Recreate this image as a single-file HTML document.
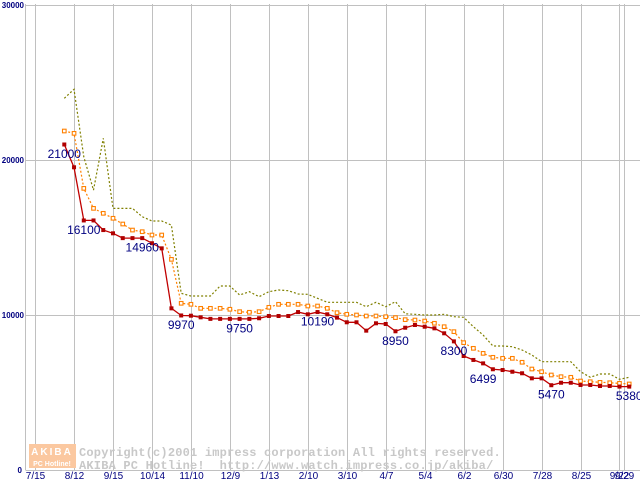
<!DOCTYPE html>
<html><head><meta charset="utf-8"><style>
html,body{margin:0;padding:0;background:#fff;}
svg{display:block;}
text{font-family:"Liberation Sans",sans-serif;}
text.mono{font-family:"Liberation Mono",monospace;}
</style></head><body>
<svg id="chart" width="640" height="480" viewBox="0 0 640 480" xmlns="http://www.w3.org/2000/svg">
<g id="grid"></g>
<g id="watermark">
  <rect x="29" y="444" width="47" height="24" fill="#fbc8a0"/>
  <text x="52" y="455" font-size="10" font-weight="bold" fill="#fff" text-anchor="middle" letter-spacing="2">AKIBA</text>
  <text x="52" y="466" font-size="7" font-weight="bold" fill="#fff" text-anchor="middle">PC Hotline!</text>
  <text class="mono" x="79" y="456" font-size="12" letter-spacing="0.2" font-weight="bold" fill="#c8c8c8">Copyright(c)2001 impress corporation All rights reserved.</text>
  <text class="mono" x="79" y="469" font-size="12" letter-spacing="0.2" font-weight="bold" fill="#c8c8c8" xml:space="preserve">AKIBA PC Hotline!  http://www.watch.impress.co.jp/akiba/</text>
</g>
<g id="series"></g>
<g id="labels"></g>
</svg>
<script>
const redValues=[21000,19530,16100,16100,15480,15270,14960,14960,14960,14630,14300,10430,9970,9955,9850,9750,9750,9750,9750,9750,9790,9935,9935,9935,10190,10045,10190,10045,9830,9530,9530,8990,9465,9420,8950,9180,9355,9245,9140,8820,8300,7355,7100,6880,6499,6450,6340,6240,5915,5915,5470,5630,5630,5485,5485,5420,5420,5380,5380];
const orangeValues=[21870,21720,18170,16880,16560,16240,15870,15480,15375,15160,15160,13590,10755,10690,10430,10430,10430,10370,10215,10175,10215,10495,10690,10690,10690,10580,10580,10430,10150,10045,10000,9935,9935,9890,9830,9700,9675,9610,9465,9245,8925,8215,7850,7525,7270,7205,7205,6950,6515,6340,6130,6020,5980,5740,5695,5655,5630,5590,5550];
const oliveValues=[23980,24560,20200,18060,21400,16880,16880,16880,16340,16065,16065,15800,11400,11225,11225,11225,11870,11870,11290,11505,11180,11505,11610,11570,11355,11335,11075,10820,10820,10820,10820,10535,10820,10535,10860,10080,10045,10000,10000,10045,9890,9850,9245,8710,8000,8000,7955,7740,7420,6990,6990,6990,6990,6340,5980,6195,6195,5850,5980];
const xTickWeeks=[-3,1,5,9,13,17,21,25,29,33,37,41,45,49,53,57,57.45];
const xTickLabels=["7/15","8/12","9/15","10/14","11/10","12/9","1/13","2/10","3/10","4/7","5/4","6/2","6/30","7/28","8/25","9/22","9/29"];
const yTicks=[0,10000,20000,30000];
const yTickLabels=["0","10000","20000","30000"];
const labelIdx=[0,2,8,12,18,26,34,40,43,50,58];
const labelText=["21000","16100","14960","9970","9750","10190","8950","8300","6499","5470","5380"];

const NS="http://www.w3.org/2000/svg";
const x=i=>64.3+9.74*i;
const y=v=>470-v*0.0155;
function mk(tag,attrs,parent){const e=document.createElementNS(NS,tag);for(const k in attrs)e.setAttribute(k,attrs[k]);parent.appendChild(e);return e;}
const grid=document.getElementById('grid'),series=document.getElementById('series'),labels=document.getElementById('labels');

yTicks.forEach((t,i)=>{
  const l=mk('line',{x1:25.5,x2:640,y1:y(t)+0.5,y2:y(t)+0.5,stroke:'#c0c0c0','stroke-width':1},grid);
  
  
  const tx=mk('text',{x:t===0?22:24,y:y(t)+3,'font-size':8,'font-weight':'bold',fill:'#000080','text-anchor':'end'},grid);
  tx.textContent=yTickLabels[i];
  
  
});
const ax=mk('line',{x1:25.5,x2:25.5,y1:4,y2:470,stroke:'#c0c0c0'},grid);


xTickWeeks.forEach((w,i)=>{
  const px=Math.round(x(w))+0.5;
  const l=mk('line',{x1:px,x2:px,y1:4,y2:470,stroke:'#c0c0c0'},grid);
  
  
  const tx=mk('text',{x:px,y:479,'font-size':10,fill:'#000080','text-anchor':'middle'},grid);
  tx.textContent=xTickLabels[i];
  
  
});

function pts(vals){return vals.map((v,i)=>x(i).toFixed(1)+','+y(v).toFixed(1)).join(' ');}
const ol=mk('polyline',{points:pts(oliveValues),fill:'none',stroke:'#808000','stroke-width':1.2,'stroke-dasharray':'2,2'},series);


const orl=mk('polyline',{points:pts(orangeValues),fill:'none',stroke:'#ff8000','stroke-width':1.2,'stroke-dasharray':'2,2'},series);


orangeValues.forEach((v,i)=>{
  const r=mk('rect',{x:x(i)-1.8,y:y(v)-1.8,width:3.6,height:3.6,fill:'#fff',stroke:'#ff8000','stroke-width':1.1},series);
  
  
});
const rl=mk('polyline',{points:pts(redValues),fill:'none',stroke:'#c00000','stroke-width':1.3},series);


redValues.forEach((v,i)=>{
  const r=mk('rect',{x:x(i)-2,y:y(v)-2,width:4,height:4,fill:'#b00000'},series);
  
  
});
labelIdx.forEach((idx,k)=>{
  const v=parseFloat(labelText[k]);
  const tx=mk('text',{x:x(idx),y:y(v)+13.5,'font-size':12,fill:'#000080','text-anchor':'middle'},labels);
  tx.textContent=labelText[k];
  
  
});
</script>
</body></html>
